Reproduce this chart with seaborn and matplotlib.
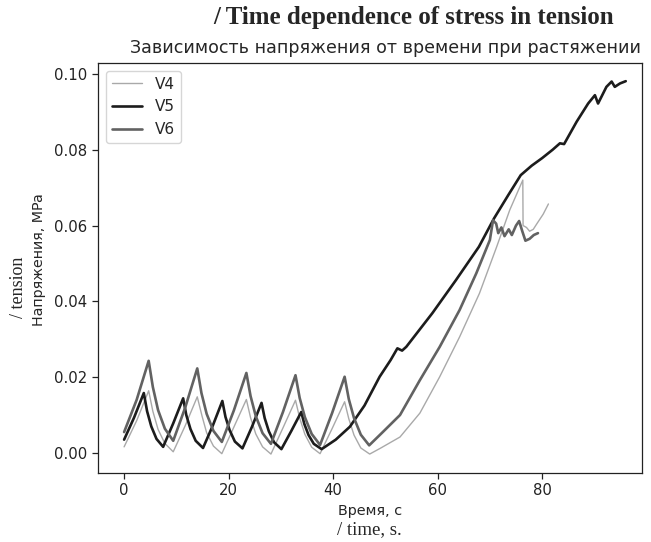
# -*- coding: utf-8 -*-
import matplotlib
matplotlib.use("Agg")
import matplotlib.pyplot as plt
import pandas as pd
import seaborn as sns

# Time (s) and stress (MPa) for each specimen
t_v4 = [0, 2.4, 4.7, 5.5, 6.5, 7.8, 9.4, 11.7, 14.0, 14.9, 15.8, 17.1, 18.7,
        21.0, 23.4, 24.2, 25.2, 26.5, 28.1, 30.4, 32.8, 33.6, 34.6, 35.9, 37.5,
        39.8, 42.2, 43.0, 44.0, 45.3, 47.0, 49.0, 52.8, 56.6, 60.4, 64.2, 68.0,
        71.3, 73.8, 76.3, 76.35, 77.0, 77.6, 78.3, 79.0, 80.2, 81.2]
v4 = [0.0016, 0.0085, 0.0164, 0.0110, 0.0062, 0.0025, 0.0003, 0.0072, 0.0148,
      0.0098, 0.0053, 0.0018, -0.0002, 0.0068, 0.0141, 0.0093, 0.0050, 0.0016,
      -0.0003, 0.0066, 0.0139, 0.0092, 0.0049, 0.0015, -0.0002, 0.0064, 0.0135,
      0.0090, 0.0047, 0.0013, -0.0003, 0.0012, 0.0042, 0.0105, 0.0201, 0.0306,
      0.0421, 0.0544, 0.0641, 0.0720, 0.0600, 0.0595, 0.0585, 0.0590, 0.0605,
      0.0630, 0.0657]

t_v5 = [0, 1.9, 3.77, 4.4, 5.2, 6.2, 7.47, 9.4, 11.3, 11.9, 12.7, 13.7, 15.1,
        17.0, 18.8, 19.4, 20.2, 21.2, 22.65, 24.5, 26.3, 26.9, 27.7, 28.7, 30.1,
        32.0, 33.9, 34.5, 35.3, 36.3, 37.8, 40.5, 43.2, 46.0, 48.9, 51.0, 52.3,
        53.2, 54.0, 59.0, 63.5, 67.9, 70.8, 73.5, 75.9, 78.0, 80.0, 82.0, 83.4,
        84.2, 86.6, 88.8, 90.1, 90.7, 92.3, 93.3, 93.9, 94.9, 96.0]
v5 = [0.0035, 0.0093, 0.0158, 0.0110, 0.0070, 0.0037, 0.0016, 0.0078, 0.0144,
      0.0100, 0.0063, 0.0032, 0.0013, 0.0073, 0.0137, 0.0095, 0.0060, 0.0030,
      0.0012, 0.0070, 0.0132, 0.0092, 0.0057, 0.0028, 0.0010, 0.0058, 0.0108,
      0.0076, 0.0047, 0.0024, 0.0010, 0.0035, 0.0069, 0.0125, 0.0201, 0.0245,
      0.0276, 0.0270, 0.0280, 0.0369, 0.0456, 0.0544, 0.0619, 0.0680, 0.0733,
      0.0758, 0.0778, 0.0800, 0.0817, 0.0815, 0.0874, 0.0922, 0.0944, 0.0922,
      0.0966, 0.0980, 0.0966, 0.0975, 0.0981]

t_v6 = [0, 2.4, 4.7, 5.5, 6.5, 7.8, 9.4, 11.7, 14.0, 14.8, 15.8, 17.1, 18.7,
        21.0, 23.4, 24.2, 25.2, 26.5, 28.1, 30.4, 32.8, 33.6, 34.6, 35.9, 37.5,
        39.8, 42.2, 43.0, 44.0, 45.3, 46.9, 49.5, 52.8, 56.6, 60.4, 64.2, 67.4,
        70.0, 70.6, 71.2, 71.6, 72.2, 72.8, 73.6, 74.2, 75.0, 75.6, 76.2, 76.8,
        77.6, 78.4, 79.2]
v6 = [0.0055, 0.0140, 0.0243, 0.0174, 0.0113, 0.0064, 0.0032, 0.0120, 0.0223,
      0.0158, 0.0103, 0.0058, 0.0029, 0.0112, 0.0211, 0.0150, 0.0097, 0.0052,
      0.0024, 0.0108, 0.0205, 0.0145, 0.0094, 0.0050, 0.0021, 0.0105, 0.0201,
      0.0142, 0.0092, 0.0048, 0.0020, 0.0055, 0.0100, 0.0192, 0.0280, 0.0377,
      0.0474, 0.0562, 0.0614, 0.0605, 0.0580, 0.0595, 0.0572, 0.0590, 0.0575,
      0.0600, 0.0612, 0.0585, 0.0560, 0.0565, 0.0575, 0.0580]

series = [("V4", t_v4, v4, "#a9a9a9", 1.0),
          ("V5", t_v5, v5, "#1c1c1c", 1.9),
          ("V6", t_v6, v6, "#626262", 1.9)]

sns.set_style("ticks")
plt.rcParams["font.family"] = ["DejaVu Sans"]

fig = plt.figure(figsize=(6.51, 5.42), dpi=100)
ax = fig.add_axes([0.1505, 0.1273, 0.8356, 0.7565])

for name, t, v, col, lw in series:
    df = pd.DataFrame({"t": t, "v": v})
    sns.lineplot(data=df, x="t", y="v", ax=ax, color=col, linewidth=lw,
                 label=name, estimator=None, sort=False)

ax.set_xlim(-5.0, 99.1)
ax.set_ylim(-0.0053, 0.1029)
ax.set_xticks([0, 20, 40, 60, 80])
ax.set_yticks([0.0, 0.02, 0.04, 0.06, 0.08, 0.10])
ax.set_yticklabels(["0.00", "0.02", "0.04", "0.06", "0.08", "0.10"])
ax.tick_params(labelsize=10.7, length=4, width=0.9, colors="#222222")
for s in ax.spines.values():
    s.set_color("#222222")
    s.set_linewidth(0.9)

ax.set_xlabel("Время, с", fontsize=10.4)
ax.set_ylabel("Напряжения, MPa", fontsize=10.3)
ax.yaxis.set_label_coords(-0.0956, 0.52)
ax.set_title("Зависимость напряжения от времени при растяжении",
             fontsize=12.6, x=0.529, pad=7)

leg = ax.legend(loc="upper left", fontsize=11, handlelength=2.0)

serif = ["Liberation Serif", "DejaVu Serif"]
fig.text(0.636, 0.967, "/ Time dependence of stress in tension", family=serif,
         fontweight="bold", fontsize=18, ha="center", va="center")
fig.text(0.028, 0.47, "/ tension", family=serif, fontsize=13, rotation=90,
         ha="center", va="center")
fig.text(0.568, 0.022, "/ time, s.", family=serif, fontsize=13.5,
         ha="center", va="center")

fig.savefig("out.png", dpi=100)
